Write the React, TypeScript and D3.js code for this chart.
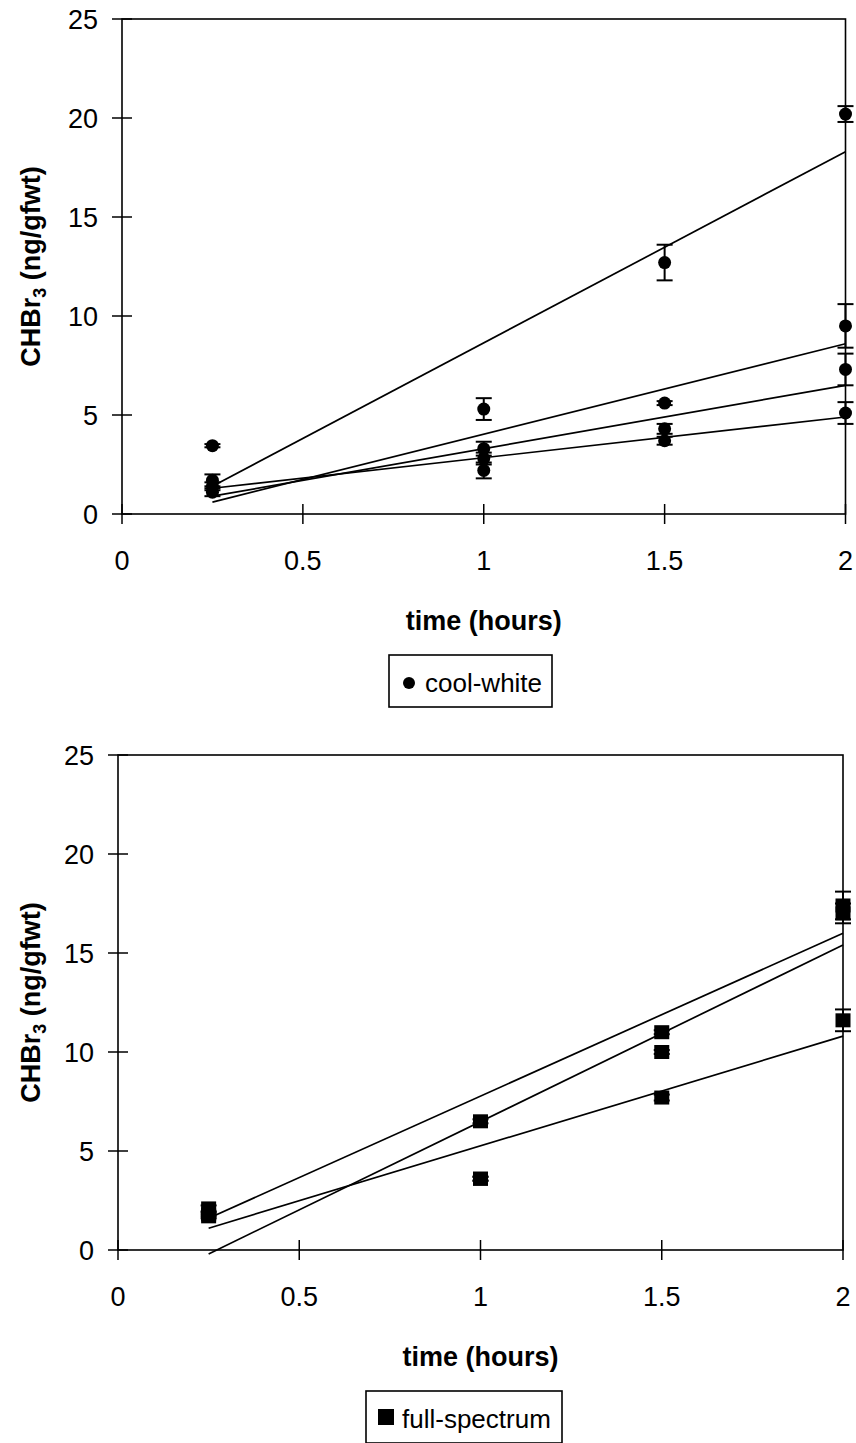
import React from "react";
import * as d3 from "d3";

const xTicks = [0, 0.5, 1, 1.5, 2];
const yTicks = [0, 5, 10, 15, 20, 25];
const times = [0.25, 1, 1.5, 2];

// cool-white replicates (ng/gfwt)
const coolA = [3.45, 5.3, 12.7, 20.2];
const coolAErr = [0.08, 0.55, 0.9, 0.4];
const coolB = [1.7, 3.3, 5.6, 9.5];
const coolBErr = [0.3, 0.35, 0.1, 1.1];
const coolC = [1.4, 2.8, 4.3, 7.3];
const coolCErr = [0.2, 0.3, 0.25, 0.8];
const coolD = [1.1, 2.2, 3.7, 5.1];
const coolDErr = [0.2, 0.4, 0.2, 0.55];
// linear trendline values at t=0.25 and t=2
const coolFitStart = [1.4, 0.6, 0.9, 1.3];
const coolFitEnd = [18.3, 8.6, 6.5, 4.9];

// full-spectrum replicates (ng/gfwt)
const fullA = [2.1, 6.5, 11.0, 17.4];
const fullAErr = [0.15, 0.1, 0.1, 0.7];
const fullB = [1.7, 3.6, 10.0, 17.0];
const fullBErr = [0.1, 0.1, 0.1, 0.5];
const fullC = [1.8, 3.6, 7.7, 11.6];
const fullCErr = [0.1, 0.1, 0.15, 0.55];
const fullFitStart = [1.6, -0.2, 1.1];
const fullFitEnd = [16.0, 15.4, 10.8];

const FONT = "'Liberation Sans', Arial, Helvetica, sans-serif";

type Series = { values: number[]; err: number[] };

function Panel(props: {
  x0: number;
  x1: number;
  yTop: number;
  yBottom: number;
  series: Series[];
  fitStart: number[];
  fitEnd: number[];
  marker: "circle" | "square";
  legendLabel: string;
  legendX: number;
  legendW: number;
}) {
  const { x0, x1, yTop, yBottom, series, fitStart, fitEnd, marker, legendLabel, legendX, legendW } = props;
  const x = d3.scaleLinear().domain([0, 2]).range([x0, x1]);
  const y = d3.scaleLinear().domain([0, 25]).range([yBottom, yTop]);
  const line = d3
    .line<[number, number]>()
    .x((d) => x(d[0]))
    .y((d) => y(d[1]));
  const midY = (yTop + yBottom) / 2;
  const midX = (x0 + x1) / 2;
  const legY = yBottom + 141;
  return (
    <g fontFamily={FONT} fill="#000">
      <rect x={x0} y={yTop} width={x1 - x0} height={yBottom - yTop} fill="none" stroke="#000" strokeWidth={1.6} />
      {yTicks.map((t) => (
        <g key={"y" + t}>
          <line x1={x0 - 10} x2={x0 + 10} y1={y(t)} y2={y(t)} stroke="#000" strokeWidth={1.5} />
          <text x={x0 - 24} y={y(t)} dy="0.36em" textAnchor="end" fontSize={27}>
            {t}
          </text>
        </g>
      ))}
      {xTicks.map((t) => (
        <g key={"x" + t}>
          <line x1={x(t)} x2={x(t)} y1={yBottom - 10} y2={yBottom + 10} stroke="#000" strokeWidth={1.5} />
          <text x={x(t)} y={yBottom + 56} textAnchor="middle" fontSize={27}>
            {t}
          </text>
        </g>
      ))}
      {fitStart.map((s, i) => (
        <path
          key={"fit" + i}
          d={line([
            [0.25, s],
            [2, fitEnd[i]],
          ]) as string}
          fill="none"
          stroke="#000"
          strokeWidth={1.7}
        />
      ))}
      {series.map((s, si) => (
        <g key={"s" + si}>
          {s.values.map((v, i) => {
            const cx = x(times[i]);
            const cy = y(v);
            const e = s.err[i];
            return (
              <g key={i}>
                <line x1={cx} x2={cx} y1={y(v + e)} y2={y(v - e)} stroke="#000" strokeWidth={2} />
                <line x1={cx - 8} x2={cx + 8} y1={y(v + e)} y2={y(v + e)} stroke="#000" strokeWidth={2} />
                <line x1={cx - 8} x2={cx + 8} y1={y(v - e)} y2={y(v - e)} stroke="#000" strokeWidth={2} />
                {marker === "circle" ? (
                  <circle cx={cx} cy={cy} r={6.5} fill="#000" />
                ) : (
                  <rect x={cx - 7.5} y={cy - 7} width={15} height={14} fill="#000" />
                )}
              </g>
            );
          })}
        </g>
      ))}
      <text x={midX} y={yBottom + 116} textAnchor="middle" fontSize={27} fontWeight="bold">
        time (hours)
      </text>
      <text
        transform={`translate(40,${midY}) rotate(-90)`}
        textAnchor="middle"
        fontSize={27}
        fontWeight="bold"
      >
        CHBr
        <tspan fontSize={18} dy={6}>
          3
        </tspan>
        <tspan dy={-6}> (ng/gfwt)</tspan>
      </text>
      <rect x={legendX} y={legY} width={legendW} height={52} fill="#fff" stroke="#000" strokeWidth={1.6} />
      {marker === "circle" ? (
        <circle cx={legendX + 20} cy={legY + 28} r={6} fill="#000" />
      ) : (
        <rect x={legendX + 12} y={legY + 18} width={16} height={16} fill="#000" />
      )}
      <text x={legendX + 36} y={legY + 37} fontSize={26}>
        {legendLabel}
      </text>
    </g>
  );
}

export default function App() {
  const coolSeries: Series[] = [
    { values: coolA, err: coolAErr },
    { values: coolB, err: coolBErr },
    { values: coolC, err: coolCErr },
    { values: coolD, err: coolDErr },
  ];
  const fullSeries: Series[] = [
    { values: fullA, err: fullAErr },
    { values: fullB, err: fullBErr },
    { values: fullC, err: fullCErr },
  ];
  return (
    <svg
      width={856}
      height={1443}
      viewBox="0 0 856 1443"
      style={{ position: "absolute", left: 0, top: 0, background: "#fff" }}
    >
      <rect x={0} y={0} width={856} height={1443} fill="#fff" />
      <Panel
        x0={122}
        x1={845.5}
        yTop={19}
        yBottom={514}
        series={coolSeries}
        fitStart={coolFitStart}
        fitEnd={coolFitEnd}
        marker="circle"
        legendLabel="cool-white"
        legendX={389}
        legendW={163}
      />
      <Panel
        x0={118}
        x1={843}
        yTop={755}
        yBottom={1250}
        series={fullSeries}
        fitStart={fullFitStart}
        fitEnd={fullFitEnd}
        marker="square"
        legendLabel="full-spectrum"
        legendX={366}
        legendW={196}
      />
    </svg>
  );
}
